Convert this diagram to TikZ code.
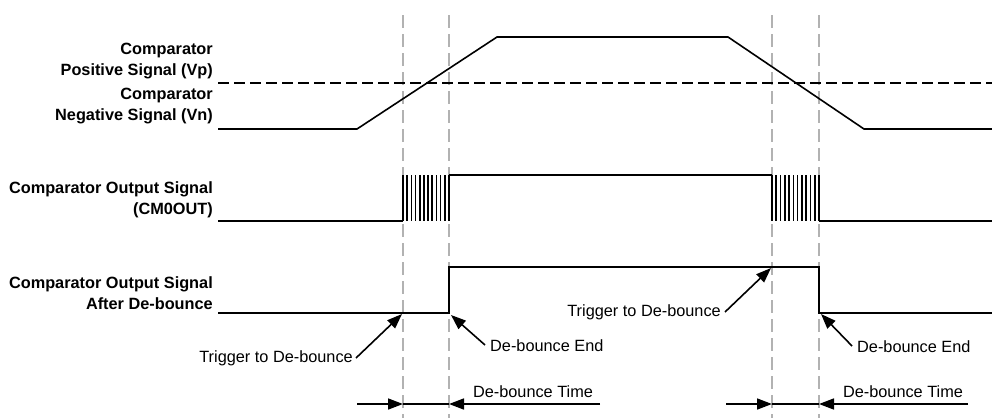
\documentclass[tikz,border=0pt]{standalone}
\usepackage{fontspec}
\setmainfont{Liberation Sans}
\usetikzlibrary{positioning, arrows.meta}

\begin{document}
\begin{tikzpicture}[x=1pt, y=-1pt, >={Triangle[length=15pt, width=11pt]},
    every node/.style={font=\fontsize{16.3}{20.5}\selectfont, inner sep=2pt},
    sig/.style={line width=1.6pt},
    grid/.style={gray!60, line width=1.3pt, dash pattern=on 13pt off 6pt},
    lbl/.style={anchor=east, align=right, font=\bfseries\fontsize{16.3}{20.5}\selectfont},
    arr/.style={->, line width=1.6pt}]
    \useasboundingbox (0,0) rectangle (992,418);
    % vertical time markers
    \foreach \x in {403,449,772,819}
      \draw[grid] (\x,15) -- (\x,418);
    % signal labels
    \node[lbl] (vp) at (215,61) {Comparator\\Positive Signal (Vp)};
    \node[lbl] (vn) at (215,106) {Comparator\\Negative Signal (Vn)};
    \node[lbl] (cmout) at (215,200) {Comparator Output Signal\\(CM0OUT)};
    \node[lbl] (dbout) at (215,293) {Comparator Output Signal\\After De-bounce};
    % comparator inputs
    \draw[line width=1.6pt, dash pattern=on 11pt off 5pt] (218,83) -- (992,83);
    \draw[sig] (218,129) -- (357,129) -- (497,37) -- (728,37)
      -- (864,129) -- (992,129);
    % raw output with bouncing
    \draw[sig] (218,221) -- (403,221);
    \foreach \i in {0,...,11} {
      \draw[sig] ({403+\i*46/11},175) -- ({403+\i*46/11},221);
      \draw[sig] ({772+\i*47/11},175) -- ({772+\i*47/11},221);
    }
    \draw[sig] (449,175) -- (772,175);
    \draw[sig] (819,221) -- (992,221);
    % de-bounced output
    \draw[sig] (218,313) -- (449,313) -- (449,267) -- (819,267)
      -- (819,313) -- (992,313);
    % annotations
    \coordinate (t1) at (402,314);
    \coordinate (e1) at (451,315);
    \coordinate (t2) at (771,268);
    \coordinate (e2) at (821,314);
    \node[anchor=east] (trig1) at (355,358) {Trigger to De-bounce};
    \node[anchor=west] (end1) at (488,346) {De-bounce End};
    \node[anchor=east] (trig2) at (723,312) {Trigger to De-bounce};
    \node[anchor=west] (end2) at (855,347) {De-bounce End};
    \draw[arr] (trig1.east) ++(1,0) -- (t1);
    \draw[arr] ([xshift=-3pt,yshift=1pt]end1.west) -- (e1);
    \draw[arr] ([xshift=2pt]trig2.east) -- (t2);
    \draw[arr] ([xshift=-3pt,yshift=1pt]end2.west) -- (e2);
    % de-bounce time
    \coordinate (a1) at (357,404); \coordinate (b1) at (403,404);
    \coordinate (c1) at (449,404); \coordinate (d1) at (600,404);
    \coordinate (a2) at (726,404); \coordinate (b2) at (772,404);
    \coordinate (c2) at (819,404); \coordinate (d2) at (968,404);
    \draw[arr] (a1) -- (b1);
    \draw[sig] (b1) -- (c1);
    \draw[arr] (d1) -- (c1);
    \draw[arr] (a2) -- (b2);
    \draw[sig] (b2) -- (c2);
    \draw[arr] (d2) -- (c2);
    \node (time1) at (533,392) {De-bounce Time};
    \node (time2) at (903,392) {De-bounce Time};
\end{tikzpicture}
\end{document}
